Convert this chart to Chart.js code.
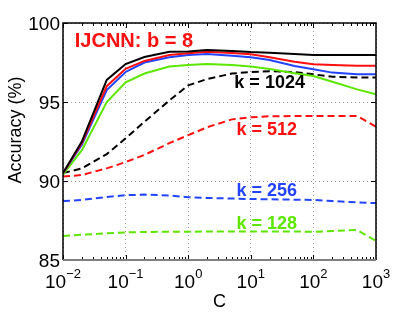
<!DOCTYPE html>
<html>
<head>
<meta charset="utf-8">
<script src="https://cdn.jsdelivr.net/npm/chart.js@4"></script>
<style>
  html, body { margin: 0; padding: 0; background: #fff; }
  #wrap { width: 415px; height: 312px; }
</style>
</head>
<body>
<div id="wrap"><canvas id="accChart"></canvas></div>
<script>
// values (IJCNN, b = 8)
const cValues = [0.01, 0.02, 0.05, 0.1, 0.2, 0.5, 1, 2, 5, 10, 20, 50, 100, 200, 500, 1000];
const blackSolid = [90.5, 92.5, 96.4, 97.4, 97.85, 98.18, 98.2, 98.29, 98.23, 98.16, 98.12, 98.04, 97.97, 97.97, 97.97, 97.97];
const redSolid = [90.5, 92.4, 96.0, 97.1, 97.6, 97.97, 98.08, 98.18, 98.1, 98.02, 97.83, 97.55, 97.39, 97.34, 97.3, 97.3];
const blueSolid = [90.5, 92.3, 95.75, 96.9, 97.5, 97.83, 97.97, 98.04, 97.93, 97.83, 97.66, 97.28, 97.07, 96.86, 96.75, 96.75];
const greenSolid = [90.4, 91.95, 95.0, 96.25, 96.8, 97.24, 97.34, 97.4, 97.34, 97.24, 97.09, 96.82, 96.65, 96.28, 95.8, 95.49];
const k1024 = [90.5, 90.8, 91.7, 92.7, 93.75, 95.1, 96.05, 96.45, 96.8, 96.9, 96.95, 96.9, 96.75, 96.6, 96.55, 96.55];
const k512 = [90.28, 90.38, 90.8, 91.2, 91.65, 92.4, 92.9, 93.4, 93.9, 94.03, 94.1, 94.11, 94.11, 94.11, 94.11, 93.44];
const k256 = [88.73, 88.8, 88.99, 89.1, 89.14, 89.08, 88.97, 88.93, 88.89, 88.86, 88.84, 88.82, 88.8, 88.73, 88.65, 88.6];
const k128 = [86.52, 86.6, 86.69, 86.75, 86.77, 86.79, 86.79, 86.8, 86.8, 86.8, 86.8, 86.8, 86.79, 86.83, 86.9, 86.2];

const xTickExps = [-2, -1, 0, 1, 2, 3];
const yTicks = [85, 90, 95, 100];

const RED = '#ff1010', BLUE = '#2244ff', GREEN = '#5ce600', BLACK = '#000000';
const FONT = '"Liberation Sans", Arial, Helvetica, sans-serif';

// text labels placed in data coordinates (x = C, y = baseline)
const notes = [
  { text: 'IJCNN: b = 8', x: 0.136, y: 98.48, color: RED, size: 20 },
  { text: 'k = 1024', x: 20, y: 95.89, color: BLACK, size: 18 },
  { text: 'k = 512', x: 18, y: 92.91, color: RED, size: 18 },
  { text: 'k = 256', x: 18, y: 89.05, color: BLUE, size: 18 },
  { text: 'k = 128', x: 18, y: 86.96, color: GREEN, size: 18 }
];

function pts(vals) {
  return cValues.map((c, i) => ({ x: c, y: vals[i] }));
}

function line(vals, color, dashed) {
  return {
    data: pts(vals),
    borderColor: color,
    borderWidth: 2,
    borderDash: dashed ? [7, 4] : [],
    pointRadius: 0,
    tension: 0,
    fill: false
  };
}

// box, inward ticks, tick labels, axis titles and notes
const decor = {
  id: 'decor',
  afterDraw(chart) {
    const { ctx, chartArea: a, scales } = chart;
    const xs = scales.x, ys = scales.y;
    ctx.save();

    // tick marks (inward, top and bottom / left and right)
    ctx.lineWidth = 1;
    ctx.strokeStyle = '#000';
    for (let e = -2; e < 3; e++) {
      for (let m = 1; m < 10; m++) {
        const px = Math.round(xs.getPixelForValue(m * Math.pow(10, e))) + 0.5;
        const len = m === 1 ? 5 : 3;
        ctx.beginPath();
        ctx.moveTo(px, a.bottom); ctx.lineTo(px, a.bottom - len);
        ctx.moveTo(px, a.top); ctx.lineTo(px, a.top + len);
        ctx.stroke();
      }
    }
    yTicks.forEach(v => {
      const py = Math.round(ys.getPixelForValue(v)) + 0.5;
      ctx.beginPath();
      ctx.moveTo(a.left, py); ctx.lineTo(a.left + 5, py);
      ctx.moveTo(a.right, py); ctx.lineTo(a.right - 5, py);
      ctx.stroke();
    });

    // box
    ctx.strokeStyle = '#000';
    ctx.lineWidth = 1.5;
    ctx.beginPath();
    ctx.moveTo(a.left, a.bottom); ctx.lineTo(a.left, a.top);
    ctx.lineTo(a.right, a.top); ctx.lineTo(a.right, a.bottom);
    ctx.stroke();
    ctx.strokeStyle = '#808080';
    ctx.lineWidth = 2;
    ctx.beginPath();
    ctx.moveTo(a.left, a.bottom); ctx.lineTo(a.right, a.bottom);
    ctx.stroke();

    // y tick labels
    ctx.fillStyle = '#000';
    ctx.font = '19px ' + FONT;
    ctx.textAlign = 'right';
    ctx.textBaseline = 'alphabetic';
    yTicks.forEach(v => {
      ctx.fillText(String(v), a.left - 3, ys.getPixelForValue(v) + 7);
    });

    // x tick labels 10^e
    xTickExps.forEach(e => {
      const px = xs.getPixelForValue(Math.pow(10, e));
      const exp = e < 0 ? '\u2212' + (-e) : String(e);
      ctx.font = '19px ' + FONT;
      const wb = ctx.measureText('10').width;
      ctx.font = '13px ' + FONT;
      const we = ctx.measureText(exp).width;
      const x0 = px - (wb + we) / 2;
      ctx.textAlign = 'left';
      ctx.font = '19px ' + FONT;
      ctx.fillText('10', x0, 288);
      ctx.font = '13px ' + FONT;
      ctx.fillText(exp, x0 + wb, 278);
    });

    // axis titles
    ctx.font = '18px ' + FONT;
    ctx.textAlign = 'center';
    ctx.fillText('C', (a.left + a.right) / 2, 307);
    ctx.save();
    ctx.translate(21, 130);
    ctx.rotate(-Math.PI / 2);
    ctx.fillText('Accuracy (%)', 0, 0);
    ctx.restore();

    // notes
    notes.forEach(n => {
      ctx.font = 'bold ' + n.size + 'px ' + FONT;
      ctx.fillStyle = n.color;
      ctx.textAlign = 'center';
      ctx.fillText(n.text, xs.getPixelForValue(n.x), ys.getPixelForValue(n.y));
    });

    ctx.restore();
  }
};

new Chart(document.getElementById('accChart'), {
  type: 'line',
  data: {
    datasets: [
      line(blackSolid, BLACK, false),
      line(redSolid, RED, false),
      line(blueSolid, BLUE, false),
      line(greenSolid, GREEN, false),
      line(k1024, BLACK, true),
      line(k512, RED, true),
      line(k256, BLUE, true),
      line(k128, GREEN, true)
    ]
  },
  options: {
    responsive: true,
    maintainAspectRatio: false,
    animation: false,
    layout: { padding: { left: 63, right: 39, top: 23, bottom: 52 } },
    plugins: { legend: { display: false }, tooltip: { enabled: false } },
    scales: {
      x: {
        type: 'logarithmic',
        min: 0.01,
        max: 1000,
        afterBuildTicks(scale) {
          scale.ticks = xTickExps.map(e => ({ value: Math.pow(10, e), major: true }));
        },
        ticks: { display: false },
        grid: { color: '#9a9a9a', lineWidth: 1, drawTicks: false },
        border: { display: false, dash: [1, 3] }
      },
      y: {
        min: 85,
        max: 100,
        ticks: { display: false, stepSize: 5 },
        grid: { color: '#9a9a9a', lineWidth: 1, drawTicks: false },
        border: { display: false, dash: [1, 3] }
      }
    }
  },
  plugins: [decor]
});
</script>
</body>
</html>
